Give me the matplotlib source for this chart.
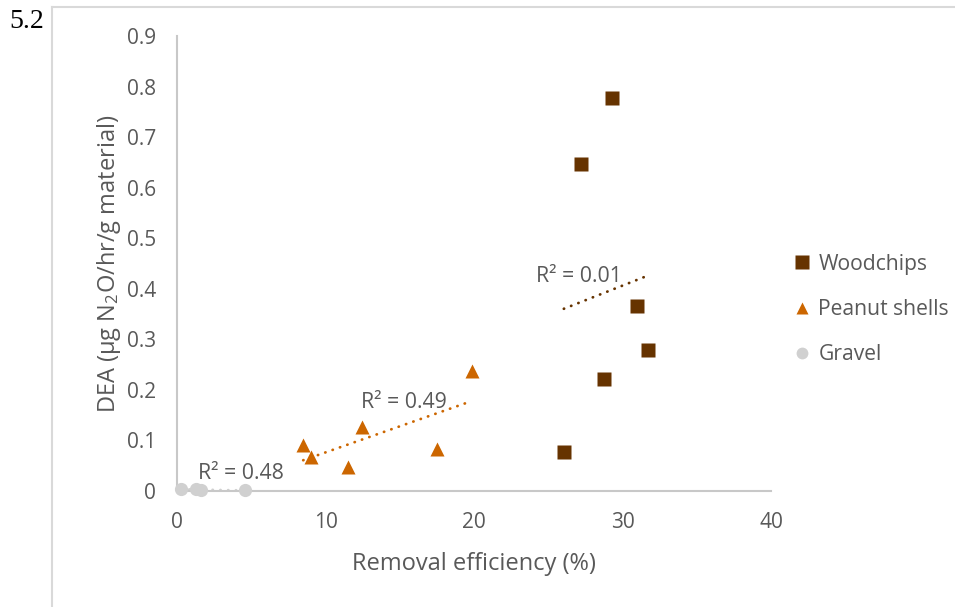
import numpy as np
import matplotlib
matplotlib.use('Agg')
import matplotlib.pyplot as plt
from matplotlib.lines import Line2D

# removal efficiency (%) vs DEA (ug N2O/hr/g material)
wood_x = [29.3, 27.2, 31.0, 31.7, 28.75, 26.05]
wood_y = [0.777, 0.647, 0.366, 0.279, 0.222, 0.077]

peanut_x = [8.5, 9.0, 11.5, 12.45, 17.5, 19.85]
peanut_y = [0.091, 0.067, 0.047, 0.127, 0.083, 0.237]

gravel_x = [0.3, 1.3, 1.6, 4.6]
gravel_y = [0.003, 0.004, 0.002, 0.001]

r2_labels = ['R² = 0.01', 'R² = 0.49', 'R² = 0.48']
r2_pos = [(24.2, 0.424), (12.4, 0.176), (1.4, 0.035)]

xticks = [0, 10, 20, 30, 40]
yticks = [0, 0.1, 0.2, 0.3, 0.4, 0.5, 0.6, 0.7, 0.8, 0.9]
ytick_labels = ['0', '0.1', '0.2', '0.3', '0.4', '0.5', '0.6', '0.7', '0.8', '0.9']

c_wood = '#663300'
c_peanut = '#CC6600'
c_gravel = '#D0D0D0'
c_text = '#595959'
c_axis = '#C8C8C8'

plt.rcParams['font.family'] = ['Open Sans', 'DejaVu Sans']
plt.rcParams['mathtext.fontset'] = 'custom'
plt.rcParams['mathtext.rm'] = 'Open Sans'
plt.rcParams['mathtext.it'] = 'Open Sans:italic'

fig = plt.figure(figsize=(9.55, 6.07), dpi=100)
ax = fig.add_axes([177/955, 1 - 491/607, 594/955, 455/607])

def trend(x, y, color):
    x = np.array(x); y = np.array(y)
    m, b = np.polyfit(x, y, 1)
    xs = np.array([x.min(), x.max()])
    ax.plot(xs, m*xs + b, color=color, lw=2.0, linestyle=(0, (0.1, 2.7)),
            dash_capstyle='round', zorder=2)

trend(wood_x, wood_y, c_wood)
trend(peanut_x, peanut_y, c_peanut)
trend(gravel_x, gravel_y, c_gravel)

ax.plot(wood_x, wood_y, 's', ms=10, color=c_wood, mec='none', zorder=3, clip_on=False)
ax.plot(peanut_x, peanut_y, '^', ms=10, color=c_peanut, mec='none', zorder=3, clip_on=False)
ax.plot(gravel_x, gravel_y, 'o', ms=9.5, color=c_gravel, mec='none', zorder=3, clip_on=False)

for lab, (tx, ty) in zip(r2_labels, r2_pos):
    ax.text(tx, ty, lab, fontsize=15.3, color=c_text, ha='left', va='center', zorder=4)

ax.set_xlim(0, 40)
ax.set_ylim(0, 0.9)
ax.set_xticks(xticks)
ax.set_yticks(yticks)
ax.set_yticklabels(ytick_labels)
ax.tick_params(length=0, labelsize=15, labelcolor=c_text)
ax.tick_params(axis='x', pad=15)
ax.tick_params(axis='y', pad=15)
for s in ['top', 'right']:
    ax.spines[s].set_visible(False)
for s in ['left', 'bottom']:
    ax.spines[s].set_color(c_axis)
    ax.spines[s].set_linewidth(1.5)

ax.set_xlabel('Removal efficiency (%)', fontsize=17, color=c_text, labelpad=14)
ax.set_ylabel(r'DEA (µg N$_2$O/hr/g material)', fontsize=17, color=c_text, labelpad=3)

handles = [Line2D([], [], marker='s', ls='none', ms=10, color=c_wood, mec='none'),
           Line2D([], [], marker='^', ls='none', ms=9, color=c_peanut, mec='none'),
           Line2D([], [], marker='o', ls='none', ms=8.5, color=c_gravel, mec='none')]
fig.legend(handles, ['Woodchips', 'Peanut shells', 'Gravel'], loc='center left',
           bbox_to_anchor=(791/955, 1 - 309.5/607), frameon=False, fontsize=15.2,
           labelcolor=c_text, handlelength=1.0, handletextpad=0.3,
           labelspacing=1.15, borderpad=0, borderaxespad=0)

# outer frame lines and figure number
fig.add_artist(Line2D([52/955, 1], [1 - 6.5/607, 1 - 6.5/607], color='#D9D9D9', lw=1.5))
fig.add_artist(Line2D([52/955, 52/955], [0, 1 - 6.5/607], color='#D9D9D9', lw=1.5))
fig.text(9/955, 1 - 22/607, '5.2', family='Liberation Serif', fontsize=20,
         color='black', ha='left', va='center')

fig.savefig('out.png', dpi=100)
